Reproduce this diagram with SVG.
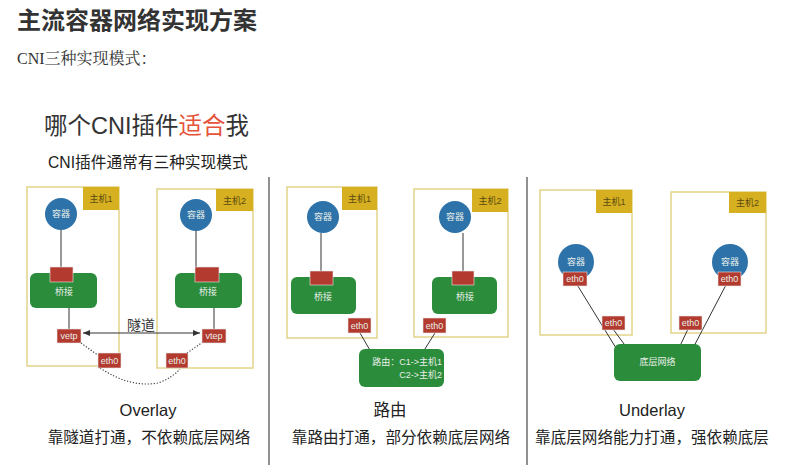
<svg xmlns="http://www.w3.org/2000/svg" width="787" height="473" viewBox="0 0 787 473">
<defs>
<style>
.host{fill:#fff;stroke:#e3d48a;stroke-width:1.5}
.hl{fill:#d6b020}
.hlt{font-family:"Liberation Sans","Noto Sans CJK SC",sans-serif;font-size:9px;fill:#5a4a10;text-anchor:middle}
.ctr{fill:#2d72a8}
.wt{font-family:"Liberation Sans","Noto Sans CJK SC",sans-serif;font-size:9px;fill:#e8efe8;text-anchor:middle}
.wte{font-family:"Liberation Sans","Noto Sans CJK SC",sans-serif;font-size:9px;fill:#e8efe8;text-anchor:end}
.br{fill:#2b8c3b}
.port{fill:#b33a2f;stroke:#e8e8e8;stroke-width:0.6}
.ln{stroke:#333;stroke-width:1;fill:none}
.dot{stroke:#333;stroke-width:1.1;stroke-dasharray:1.2 1.8;fill:none}
.div{stroke:#555;stroke-width:1.3}
.t1{font-family:"Noto Sans CJK SC",sans-serif;font-weight:bold;font-size:24px;fill:#333}
.cap{font-family:"Liberation Sans","Noto Sans CJK SC",sans-serif;fill:#222;text-anchor:middle}
</style>
<marker id="ah" markerWidth="8" markerHeight="8" refX="7" refY="4" orient="auto-start-reverse" markerUnits="userSpaceOnUse">
<path d="M0,1 L7,4 L0,7 Z" fill="#333"/>
</marker>
</defs>
<rect width="787" height="473" fill="#fff"/>
<text class="t1" x="17" y="29">主流容器网络实现方案</text>
<text x="17" y="64" font-family="'Liberation Serif','Noto Serif CJK SC','Noto Sans CJK SC',serif" font-size="16" fill="#333">CNI三种实现模式：</text>
<text x="44" y="134" font-family="'Liberation Sans','Noto Sans CJK SC',sans-serif" font-size="23.5" fill="#333">哪个CNI插件<tspan fill="#e5533a">适合</tspan>我</text>
<text x="48" y="168" font-family="'Liberation Sans','Noto Sans CJK SC',sans-serif" font-size="15.7" fill="#222">CNI插件通常有三种实现模式</text>

<g id="dividers">
<line class="div" x1="269" y1="177" x2="269" y2="465"/>
<line class="div" x1="527" y1="177" x2="527" y2="465"/>
</g>

<!-- Hosts -->
<g id="ov-host1">
<rect class="host" x="27" y="187" width="92" height="179"/>
<rect class="hl" x="83" y="187" width="36" height="23"/>
<text class="hlt" x="101" y="202">主机1</text>
</g>
<g id="ov-host2">
<rect class="host" x="157" y="189" width="96" height="179"/>
<rect class="hl" x="216" y="189" width="37" height="22"/>
<text class="hlt" x="234.5" y="204">主机2</text>
</g>
<g id="rt-host1">
<rect class="host" x="287" y="187" width="90" height="151"/>
<rect class="hl" x="342" y="187" width="35" height="23"/>
<text class="hlt" x="359.5" y="202">主机1</text>
</g>
<g id="rt-host2">
<rect class="host" x="414" y="189" width="94" height="148"/>
<rect class="hl" x="472" y="189" width="36" height="23"/>
<text class="hlt" x="490" y="204">主机2</text>
</g>
<g id="ul-host1">
<rect class="host" x="540" y="190" width="92" height="145"/>
<rect class="hl" x="596" y="190" width="36" height="23"/>
<text class="hlt" x="614" y="205">主机1</text>
</g>
<g id="ul-host2">
<rect class="host" x="671" y="192" width="95" height="141"/>
<rect class="hl" x="729" y="192" width="37" height="21"/>
<text class="hlt" x="747.5" y="206">主机2</text>
</g>

<g id="connectors">
<line class="ln" x1="61" y1="230" x2="61" y2="268"/>
<line class="ln" x1="196" y1="230" x2="196" y2="268"/>
<line class="ln" x1="69" y1="308" x2="69" y2="329"/>
<line class="ln" x1="214" y1="308" x2="214" y2="329"/>
<line class="ln" x1="83" y1="333" x2="200" y2="333" marker-start="url(#ah)" marker-end="url(#ah)"/>
<path class="dot" d="M81,343 L99,356"/>
<path class="dot" d="M100,368 Q130,388 158,383 Q172,378 180,369"/>
<path class="dot" d="M187,353 L203,342"/>
<line class="ln" x1="321" y1="233" x2="321" y2="271"/>
<line class="ln" x1="463" y1="233" x2="463" y2="271"/>
<line class="ln" x1="360" y1="333" x2="371" y2="352"/>
<line class="ln" x1="435" y1="333" x2="423" y2="352"/>
<line class="ln" x1="576" y1="283" x2="616" y2="348"/>
<line class="ln" x1="613" y1="329" x2="627" y2="348"/>
<line class="ln" x1="688" y1="329" x2="679" y2="348"/>
<line class="ln" x1="727" y1="283" x2="693" y2="348"/>
</g>

<!-- Overlay -->
<g id="ov-c1"><circle class="ctr" cx="61" cy="214" r="16"/><text class="wt" x="61" y="217">容器</text></g>
<g id="ov-c2"><circle class="ctr" cx="196" cy="215" r="16"/><text class="wt" x="196" y="218">容器</text></g>
<g id="ov-b1"><rect class="br" x="30" y="273" width="67" height="35" rx="6"/><rect class="port" x="50" y="267" width="23" height="15"/><text class="wt" x="64" y="295">桥接</text></g>
<g id="ov-b2"><rect class="br" x="175" y="273" width="67" height="35" rx="6"/><rect class="port" x="195" y="267" width="24" height="15"/><text class="wt" x="208" y="295">桥接</text></g>
<g id="ov-vetp"><rect class="port" x="57" y="329" width="24" height="14"/><text class="wt" x="69" y="339">vetp</text></g>
<g id="ov-vtep"><rect class="port" x="202" y="329" width="24" height="14"/><text class="wt" x="214" y="339">vtep</text></g>
<g id="ov-eth1"><rect class="port" x="98" y="353" width="23" height="15"/><text class="wt" x="109.5" y="364">eth0</text></g>
<g id="ov-eth2"><rect class="port" x="166" y="353" width="22" height="15"/><text class="wt" x="177" y="364">eth0</text></g>
<text x="141" y="330" font-family="'Liberation Sans','Noto Sans CJK SC',sans-serif" font-size="14" fill="#333" text-anchor="middle">隧道</text>
<text class="cap" x="148" y="416" font-size="16.5">Overlay</text>
<text class="cap" x="149" y="443" font-size="15.6">靠隧道打通，不依赖底层网络</text>

<!-- Route -->
<g id="rt-c1"><circle class="ctr" cx="323" cy="217" r="16"/><text class="wt" x="323" y="220">容器</text></g>
<g id="rt-c2"><circle class="ctr" cx="455" cy="217" r="16"/><text class="wt" x="455" y="220">容器</text></g>
<g id="rt-b1"><rect class="br" x="291" y="277" width="65" height="37" rx="6"/><rect class="port" x="310" y="271" width="23" height="14"/><text class="wt" x="323" y="300">桥接</text></g>
<g id="rt-b2"><rect class="br" x="432" y="277" width="65" height="37" rx="6"/><rect class="port" x="452" y="271" width="22" height="14"/><text class="wt" x="465" y="300">桥接</text></g>
<g id="rt-eth1"><rect class="port" x="348" y="318" width="23" height="15"/><text class="wt" x="359.5" y="329">eth0</text></g>
<g id="rt-eth2"><rect class="port" x="423" y="318" width="23" height="15"/><text class="wt" x="434.5" y="329">eth0</text></g>
<g id="rt-router"><rect class="br" x="359" y="349" width="85" height="38" rx="6"/>
<text class="wte" x="442" y="365">路由：C1-&gt;主机1</text>
<text class="wte" x="442" y="378">C2-&gt;主机2</text></g>
<text class="cap" x="390" y="416" font-size="16.5">路由</text>
<text class="cap" x="401" y="443" font-size="15.6">靠路由打通，部分依赖底层网络</text>

<!-- Underlay -->
<g id="ul-c1"><circle class="ctr" cx="576" cy="262" r="18"/><text class="wt" x="576" y="265">容器</text>
<rect class="port" x="563" y="272" width="24" height="14"/><text class="wt" x="575" y="282">eth0</text></g>
<g id="ul-c2"><circle class="ctr" cx="730" cy="262" r="18"/><text class="wt" x="730" y="265">容器</text>
<rect class="port" x="718" y="272" width="23" height="14"/><text class="wt" x="729.5" y="282">eth0</text></g>
<g id="ul-eth1"><rect class="port" x="602" y="316" width="23" height="14"/><text class="wt" x="613.5" y="326">eth0</text></g>
<g id="ul-eth2"><rect class="port" x="679" y="316" width="23" height="14"/><text class="wt" x="690.5" y="326">eth0</text></g>
<g id="ul-net"><rect class="br" x="614" y="344" width="87" height="37" rx="6"/><text class="wt" x="657.5" y="365">底层网络</text></g>
<text class="cap" x="652" y="416" font-size="16.5">Underlay</text>
<text class="cap" x="652" y="443" font-size="15.6">靠底层网络能力打通，强依赖底层</text>
</svg>
